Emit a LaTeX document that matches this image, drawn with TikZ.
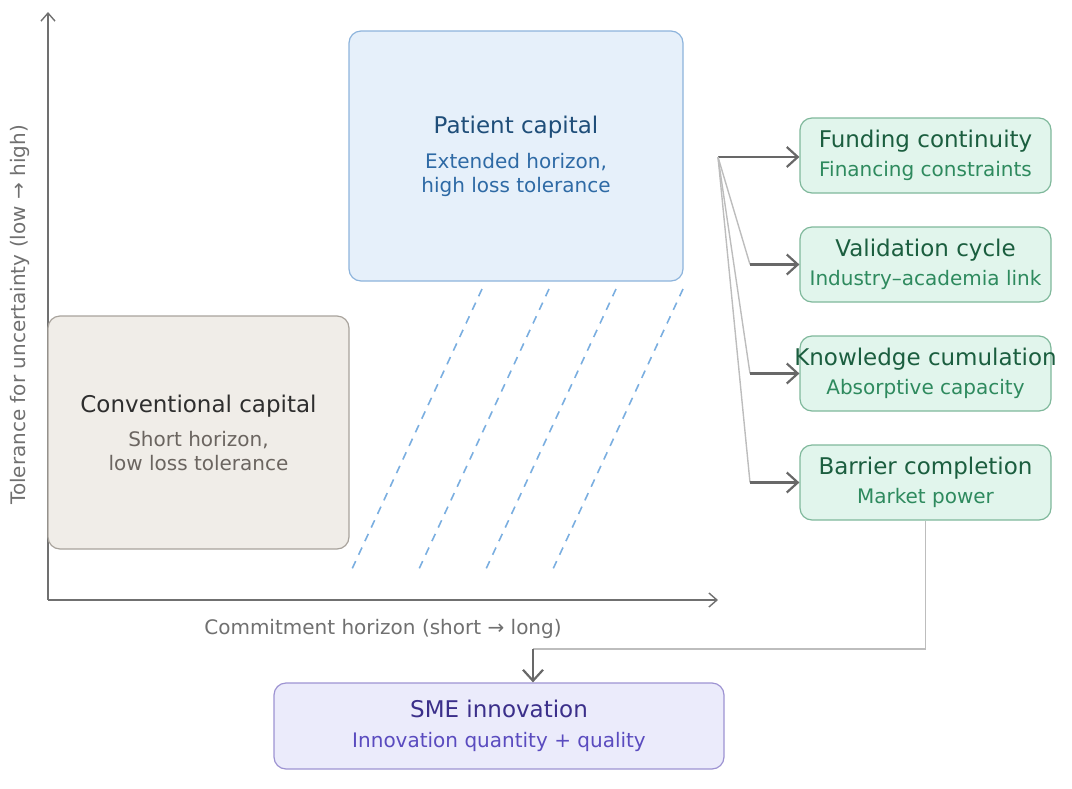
\documentclass[tikz,border=0pt]{standalone}
\usepackage{fontspec}
\setmainfont{DejaVu Sans}
\usetikzlibrary{arrows.meta}
\definecolor{axisgray}{HTML}{707070}
\definecolor{arrowgray}{HTML}{686868}
\definecolor{linegray}{HTML}{BDBDBD}
\definecolor{convfill}{HTML}{F0EDE8}
\definecolor{convdraw}{HTML}{A8A39C}
\definecolor{convtext}{HTML}{2E2E2E}
\definecolor{convsub}{HTML}{6B6560}
\definecolor{patfill}{HTML}{E6F0FA}
\definecolor{patdraw}{HTML}{8DB4DC}
\definecolor{pattext}{HTML}{1F4E79}
\definecolor{patsub}{HTML}{2E6AA5}
\definecolor{hatch}{HTML}{7AAEE0}
\definecolor{mechfill}{HTML}{E1F5EC}
\definecolor{mechdraw}{HTML}{7FB89B}
\definecolor{mechtext}{HTML}{1B5E3F}
\definecolor{mechsub}{HTML}{2E8A5E}
\definecolor{smefill}{HTML}{EBEBFB}
\definecolor{smedraw}{HTML}{9D93D2}
\definecolor{smetext}{HTML}{3B2F8A}
\definecolor{smesub}{HTML}{5A4BBF}
% title and subtitle of a mechanism box (text may run over the box)
\newcommand{\mechlabel}[2]{%
  \makebox[0pt]{\textcolor{mechtext}{\fontsize{11.5}{13}\selectfont #1}}\\[2.5pt]
  \makebox[0pt]{\textcolor{mechsub}{\fontsize{10}{12}\selectfont #2}}}

\begin{document}
\begin{tikzpicture}[x=0.5pt,y=-0.5pt]
        \tikzset{box/.style={rounded corners=6pt,line width=0.6pt,align=center,inner sep=0pt},
            mech/.style={box,fill=mechfill,draw=mechdraw,minimum width=125.5pt,minimum height=37.5pt},
            axis/.style={draw=axisgray,line width=0.7pt,-{Straight Barb[length=4pt,width=7pt]}},
            link/.style={draw=arrowgray,line width=1.1pt,-{Straight Barb[length=5.5pt,width=10pt]}},
            fanline/.style={draw=linegray,line width=0.7pt},
            hatchline/.style={draw=hatch,line width=0.8pt,dash pattern=on 4pt off 3.5pt}}
        \useasboundingbox (0,0) rectangle (1072,788);
        % axes
        \coordinate (origin) at (48,600);
        \draw[axis] (origin) -- (48,12);
        \draw[axis] (origin) -- (718,600);
        \node[rotate=90,text=axisgray,font=\fontsize{10}{12}\selectfont] (ylabel) at (20,315)
            {Tolerance for uncertainty (low → high)};
        \node[text=axisgray,font=\fontsize{10}{12}\selectfont] (xlabel) at (383,629)
            {Commitment horizon (short → long)};
        % capital types
        \node[box,fill=convfill,draw=convdraw,minimum width=150.5pt,minimum height=116.5pt]
            (conv) at (198.5,432.5)
            {\textcolor{convtext}{\fontsize{11.5}{13}\selectfont Conventional capital}\\[5pt]
             \textcolor{convsub}{\fontsize{10}{13}\selectfont Short horizon,}\\
             \textcolor{convsub}{\fontsize{10}{13}\selectfont low loss tolerance}};
        \node[box,fill=patfill,draw=patdraw,minimum width=167pt,minimum height=125pt]
            (patient) at (516,156)
            {\textcolor{pattext}{\fontsize{11.5}{13}\selectfont Patient capital}\\[5.5pt]
             \textcolor{patsub}{\fontsize{10}{13}\selectfont Extended horizon,}\\
             \textcolor{patsub}{\fontsize{10}{13}\selectfont high loss tolerance}};
        % extension of the patient range
        \foreach \x in {482,549,616,683}
            \draw[hatchline] (\x,289) -- (\x-130,569);
        % mechanisms
        \node[mech] (funding) at (925.5,155.5)
            {\mechlabel{Funding continuity}{Financing constraints}};
        \node[mech] (validation) at (925.5,264.5)
            {\mechlabel{Validation cycle}{Industry–academia link}};
        \node[mech] (knowledge) at (925.5,373.5)
            {\mechlabel{Knowledge cumulation}{Absorptive capacity}};
        \node[mech] (barrier) at (925.5,482.5)
            {\mechlabel{Barrier completion}{Market power}};
        % outcome
        \node[box,fill=smefill,draw=smedraw,minimum width=225pt,minimum height=43pt]
            (sme) at (499,726)
            {\textcolor{smetext}{\fontsize{11.5}{13}\selectfont SME innovation}\\[3pt]
             \textcolor{smesub}{\fontsize{10}{12}\selectfont Innovation quantity + quality}};
        % connectors
        \coordinate (fan) at (718,157);
        \draw[link] (fan) -- (funding.west |- fan);
        \foreach \m in {validation,knowledge,barrier} {
            \coordinate (\m-in) at (750,0 |- \m.west);
            \draw[fanline] (fan) -- (\m-in);
            \draw[link] (\m-in) -- (\m.west);
        }
        \coordinate (bend) at (533,649);
        \draw[fanline] (barrier.south) |- (bend);
        \draw[link] (bend) -- (sme.north -| bend);
\end{tikzpicture}
\end{document}
